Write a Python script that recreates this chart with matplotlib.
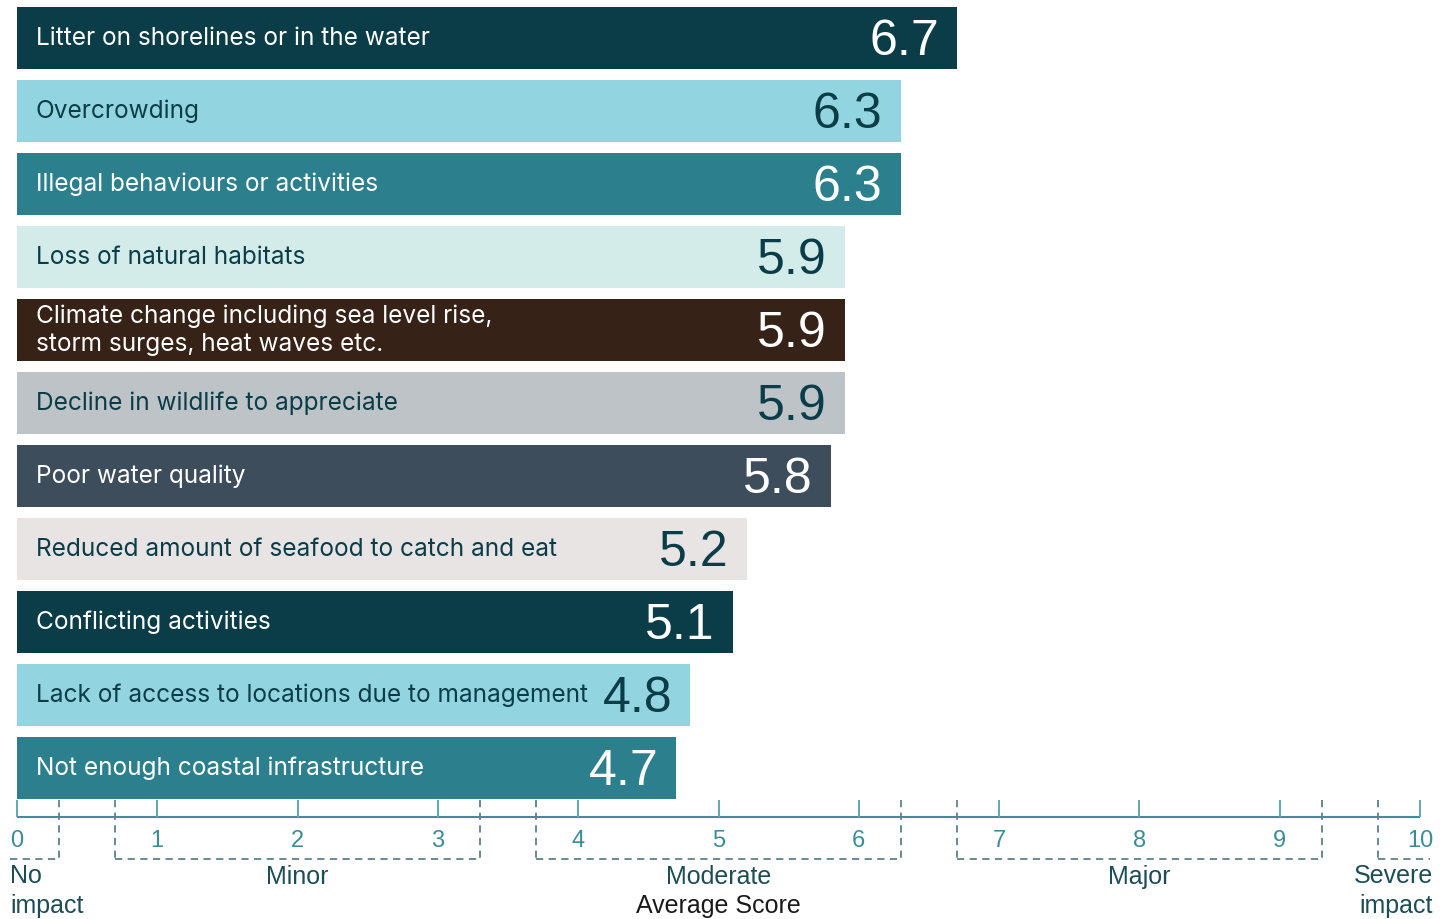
import matplotlib.pyplot as plt

# Average impact score per issue
categories = [
    "Litter on shorelines or in the water",
    "Overcrowding",
    "Illegal behaviours or activities",
    "Loss of natural habitats",
    "Climate change including sea level rise,\nstorm surges, heat waves etc.",
    "Decline in wildlife to appreciate",
    "Poor water quality",
    "Reduced amount of seafood to catch and eat",
    "Conflicting activities",
    "Lack of access to locations due to management",
    "Not enough coastal infrastructure",
]
scores = [6.7, 6.3, 6.3, 5.9, 5.9, 5.9, 5.8, 5.2, 5.1, 4.8, 4.7]
bar_colors = ["#0b3d48", "#92d5e0", "#2c7f8c", "#d3ece9", "#362217", "#bdc3c6",
              "#3e4d5c", "#e8e4e3", "#0b3d48", "#92d5e0", "#2c7f8c"]
text_colors = ["white", "#0b3d48", "white", "#0b3d48", "white", "#0b3d48",
               "white", "#0b3d48", "white", "#0b3d48", "white"]

tick_values = list(range(0, 11))
# impact bands along the score axis: (start, end, label)
bands = [(-0.05, 0.3, "No\nimpact"), (0.7, 3.3, "Minor"), (3.7, 6.3, "Moderate"),
         (6.7, 9.3, "Major"), (9.7, 10.07, "Severe\nimpact")]

fig = plt.figure(figsize=(14.5, 9.19), dpi=100)
ax = fig.add_axes([0, 0, 1, 1])
ax.set_xlim(-17 / 140.3, (1450 - 17) / 140.3)
ax.set_ylim((919 - 38) / 73, -38 / 73)
ax.axis("off")


def py(p):
    # vertical pixel position -> row units
    return (p - 38) / 73


label_font = "Inter"
num_font = "Liberation Sans"

rows = list(range(len(categories)))
ax.barh(rows, scores, height=0.836, color=bar_colors, left=0)
for i, (cat, val) in enumerate(zip(categories, scores)):
    ax.text(0.135, i + 0.01, cat, ha="left", va="center", fontsize=17.6, family=label_font,
            color=text_colors[i], linespacing=1.28)
    ax.text(val - 0.13, i + 0.05, f"{val:.1f}", ha="right", va="center", fontsize=36,
            family=num_font, color=text_colors[i])

# score axis
axis_col = "#3f8f9a"
ax.plot([0, 10], [py(817), py(817)], color=axis_col, lw=1.5, solid_capstyle="butt")
ax.vlines(tick_values, py(800), py(817), color="#6aa7b0", lw=1.5)
for t in tick_values:
    ax.text(t, py(841), str(t), ha="center", va="center", fontsize=17,
            family=num_font, color="#3a8d98")

# dashed impact bands
dash_col = "#5a8288"
for i, (a, b, name) in enumerate(bands):
    ax.plot([a, b], [py(859), py(859)], color=dash_col, lw=1.3, ls=(0, (4, 3)))
    if i > 0:
        ax.plot([a, a], [py(800), py(859)], color=dash_col, lw=1.3, ls=(0, (4, 3)))
    if i < len(bands) - 1:
        ax.plot([b, b], [py(800), py(859)], color=dash_col, lw=1.3, ls=(0, (4, 3)))

ax.text(-0.05, py(891), "No\nimpact", ha="left", va="center", fontsize=18,
        family=num_font, color="#1d4d55", linespacing=1.35)
for a, b, name in bands[1:4]:
    ax.text((a + b) / 2, py(877), name, ha="center", va="center", fontsize=18,
            family=num_font, color="#1d4d55")
ax.text(10.09, py(891), "Severe\nimpact", ha="right", va="center", fontsize=18,
        family=num_font, color="#1d4d55", linespacing=1.35)
ax.text(5.0, py(906), "Average Score", ha="center", va="center", fontsize=18,
        family=num_font, color="#1a1a1a")

fig.savefig("out.png", dpi=100)
